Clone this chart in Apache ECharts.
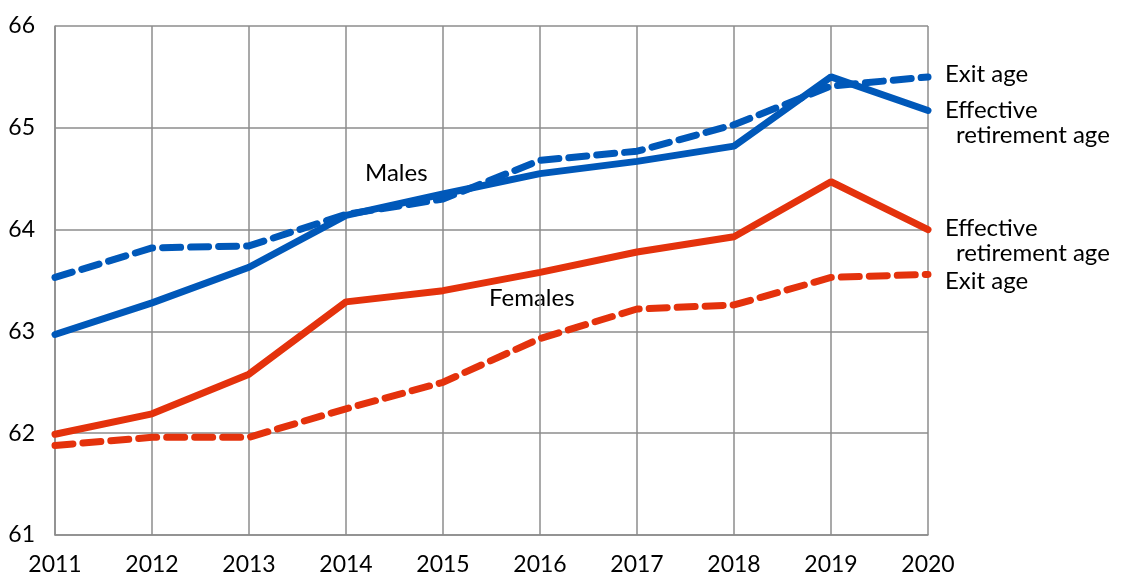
<!DOCTYPE html>
<html>
<head>
<meta charset="utf-8">
<script src="https://cdn.jsdelivr.net/npm/echarts@6/dist/echarts.min.js"></script>
<style>
  html, body { margin: 0; padding: 0; background: #fff; }
  #chart { width: 1126px; height: 578px; }
</style>
</head>
<body>
<div id="chart"></div>
<script>
// years on the x axis
var years = ["2011", "2012", "2013", "2014", "2015", "2016", "2017", "2018", "2019", "2020"];
// males
var maleEffective = [62.97, 63.28, 63.63, 64.14, 64.35, 64.55, 64.67, 64.82, 65.50, 65.17];
var maleExit = [63.53, 63.82, 63.84, 64.15, 64.30, 64.68, 64.77, 65.03, 65.41, 65.50];
// females
var femaleEffective = [61.99, 62.19, 62.58, 63.29, 63.40, 63.58, 63.78, 63.93, 64.47, 64.00];
var femaleExit = [61.88, 61.96, 61.96, 62.24, 62.50, 62.93, 63.22, 63.26, 63.53, 63.56];

var BLUE = "#0058b9";
var RED = "#e4320c";
var FONT = "Lato";
var TXT = "#000";

var chart = echarts.init(document.getElementById("chart"));

function lineSeries(name, data, color, dashed, label) {
  return {
    name: name,
    type: "line",
    data: data,
    symbol: "none",
    animation: false,
    lineStyle: {
      color: color,
      width: 7,
      type: dashed ? [18, 10] : "solid",
      cap: "round",
    },
    endLabel: label,
  };
}

// label next to the end of a line
function endLabel(text, dy) {
  return {
    show: true,
    distance: 17,
    offset: [0, dy],
    formatter: text,
    fontFamily: FONT,
    fontSize: 24,
    color: TXT,
    rich: {
      a: { fontFamily: FONT, fontSize: 24, color: TXT, lineHeight: 25 },
      b: { fontFamily: FONT, fontSize: 24, color: TXT, lineHeight: 25, padding: [0, 0, 0, 11] },
    },
  };
}

chart.setOption({
  backgroundColor: "#fff",
  grid: { left: 55, right: 198, top: 26, bottom: 43, outerBoundsMode: "none" },
  xAxis: {
    type: "category",
    data: years,
    boundaryGap: false,
    axisLine: { lineStyle: { color: "#8c8c8c", width: 1.5 } },
    axisTick: { show: false },
    axisLabel: { color: TXT, fontFamily: FONT, fontSize: 23, margin: 18 },
    splitLine: { show: true, lineStyle: { color: "#8c8c8c", width: 1.5 } },
  },
  yAxis: {
    type: "value",
    min: 61,
    max: 66,
    interval: 1,
    axisLine: { show: true, lineStyle: { color: "#8c8c8c", width: 1.5 } },
    axisTick: { show: false },
    axisLabel: { color: TXT, fontFamily: FONT, fontSize: 23, margin: 20, padding: [0, 0, 5, 0] },
    splitLine: { show: true, lineStyle: { color: "#8c8c8c", width: 1.5 } },
  },
  series: [
    lineSeries("Male exit age", maleExit, BLUE, true, endLabel("Exit age", -3)),
    lineSeries("Male effective retirement age", maleEffective, BLUE, false,
      endLabel("{a|Effective}\n{b|retirement age}", 12)),
    lineSeries("Female effective retirement age", femaleEffective, RED, false,
      endLabel("{a|Effective}\n{b|retirement age}", 11)),
    lineSeries("Female exit age", femaleExit, RED, true, endLabel("Exit age", 7)),
  ],
  graphic: [
    { type: "text", left: 365, top: 161, style: { text: "Males", fontFamily: FONT, fontSize: 24, fill: TXT } },
    { type: "text", left: 489, top: 286, style: { text: "Females", fontFamily: FONT, fontSize: 24, fill: TXT } },
  ],
});
</script>
</body>
</html>
